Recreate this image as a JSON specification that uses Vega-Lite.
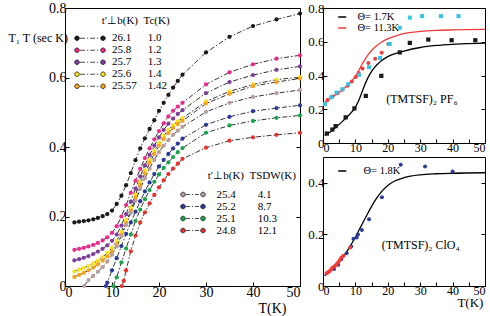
{
"$schema": "https://vega.github.io/schema/vega-lite/v6.json",
"background": "white",
"padding": {"left": 7, "top": 0, "right": 4, "bottom": 10},
"bounds": "flush",
"spacing": 23,
"resolve": {"scale": {"color": "independent"}},
"config": {
  "font": "Liberation Serif",
  "view": {"stroke": "black", "strokeWidth": 1},
  "axis": {"domain": false, "grid": false, "ticks": true, "tickColor": "black", "tickSize": -4, "tickWidth": 1, "labelColor": "black", "labelFont": "Liberation Serif", "labelFontSize": 13, "labelPadding": 3, "titleFont": "Liberation Serif", "titleFontWeight": "normal", "titleColor": "black", "titleFontSize": 13},
  "legend": {"labelFont": "Liberation Serif", "titleFont": "Liberation Serif", "labelColor": "black", "titleColor": "black", "titleFontWeight": "normal", "labelFontSize": 11, "titleFontSize": 11}
},
"hconcat": [
{
  "width": 235, "height": 278,
  "data": {"values": [
    {"s":"26.1","T":2,"v":0.183},{"s":"26.1","T":3,"v":0.185},{"s":"26.1","T":4,"v":0.187},{"s":"26.1","T":5,"v":0.189},{"s":"26.1","T":6,"v":0.192},{"s":"26.1","T":7,"v":0.196},{"s":"26.1","T":8,"v":0.201},{"s":"26.1","T":9,"v":0.207},{"s":"26.1","T":10,"v":0.217},{"s":"26.1","T":11,"v":0.236},{"s":"26.1","T":12,"v":0.26},{"s":"26.1","T":13,"v":0.29},{"s":"26.1","T":14,"v":0.325},{"s":"26.1","T":15,"v":0.362},{"s":"26.1","T":16,"v":0.396},{"s":"26.1","T":17,"v":0.425},{"s":"26.1","T":18,"v":0.452},{"s":"26.1","T":19,"v":0.477},{"s":"26.1","T":20,"v":0.504},{"s":"26.1","T":21,"v":0.527},{"s":"26.1","T":22,"v":0.55},{"s":"26.1","T":23,"v":0.571},{"s":"26.1","T":24,"v":0.59},{"s":"26.1","T":25,"v":0.608},{"s":"26.1","T":30,"v":0.672},{"s":"26.1","T":35,"v":0.717},{"s":"26.1","T":40,"v":0.748},{"s":"26.1","T":45,"v":0.767},{"s":"26.1","T":50,"v":0.784},
    {"s":"25.8","T":2,"v":0.104},{"s":"25.8","T":3,"v":0.107},{"s":"25.8","T":4,"v":0.11},{"s":"25.8","T":5,"v":0.114},{"s":"25.8","T":6,"v":0.118},{"s":"25.8","T":7,"v":0.124},{"s":"25.8","T":8,"v":0.131},{"s":"25.8","T":9,"v":0.14},{"s":"25.8","T":10,"v":0.153},{"s":"25.8","T":11,"v":0.172},{"s":"25.8","T":12,"v":0.2},{"s":"25.8","T":13,"v":0.233},{"s":"25.8","T":14,"v":0.268},{"s":"25.8","T":15,"v":0.303},{"s":"25.8","T":16,"v":0.337},{"s":"25.8","T":17,"v":0.368},{"s":"25.8","T":18,"v":0.396},{"s":"25.8","T":19,"v":0.422},{"s":"25.8","T":20,"v":0.446},{"s":"25.8","T":21,"v":0.468},{"s":"25.8","T":22,"v":0.488},{"s":"25.8","T":23,"v":0.504},{"s":"25.8","T":24,"v":0.516},{"s":"25.8","T":25,"v":0.527},{"s":"25.8","T":30,"v":0.58},{"s":"25.8","T":35,"v":0.615},{"s":"25.8","T":40,"v":0.638},{"s":"25.8","T":45,"v":0.654},{"s":"25.8","T":50,"v":0.664},
    {"s":"25.7","T":2,"v":0.074},{"s":"25.7","T":3,"v":0.077},{"s":"25.7","T":4,"v":0.081},{"s":"25.7","T":5,"v":0.086},{"s":"25.7","T":6,"v":0.092},{"s":"25.7","T":7,"v":0.099},{"s":"25.7","T":8,"v":0.107},{"s":"25.7","T":9,"v":0.117},{"s":"25.7","T":10,"v":0.13},{"s":"25.7","T":11,"v":0.148},{"s":"25.7","T":12,"v":0.174},{"s":"25.7","T":13,"v":0.207},{"s":"25.7","T":14,"v":0.243},{"s":"25.7","T":15,"v":0.28},{"s":"25.7","T":16,"v":0.315},{"s":"25.7","T":17,"v":0.347},{"s":"25.7","T":18,"v":0.377},{"s":"25.7","T":19,"v":0.404},{"s":"25.7","T":20,"v":0.428},{"s":"25.7","T":21,"v":0.449},{"s":"25.7","T":22,"v":0.467},{"s":"25.7","T":23,"v":0.482},{"s":"25.7","T":24,"v":0.495},{"s":"25.7","T":25,"v":0.506},{"s":"25.7","T":30,"v":0.555},{"s":"25.7","T":35,"v":0.587},{"s":"25.7","T":40,"v":0.607},{"s":"25.7","T":45,"v":0.622},{"s":"25.7","T":50,"v":0.632},
    {"s":"25.6","T":2,"v":0.042},{"s":"25.6","T":3,"v":0.047},{"s":"25.6","T":4,"v":0.052},{"s":"25.6","T":5,"v":0.058},{"s":"25.6","T":6,"v":0.065},{"s":"25.6","T":7,"v":0.073},{"s":"25.6","T":8,"v":0.083},{"s":"25.6","T":9,"v":0.095},{"s":"25.6","T":10,"v":0.11},{"s":"25.6","T":11,"v":0.13},{"s":"25.6","T":12,"v":0.156},{"s":"25.6","T":13,"v":0.19},{"s":"25.6","T":14,"v":0.226},{"s":"25.6","T":15,"v":0.263},{"s":"25.6","T":16,"v":0.3},{"s":"25.6","T":17,"v":0.333},{"s":"25.6","T":18,"v":0.363},{"s":"25.6","T":19,"v":0.389},{"s":"25.6","T":20,"v":0.412},{"s":"25.6","T":21,"v":0.432},{"s":"25.6","T":22,"v":0.449},{"s":"25.6","T":23,"v":0.463},{"s":"25.6","T":24,"v":0.474},{"s":"25.6","T":25,"v":0.483},{"s":"25.6","T":30,"v":0.531},{"s":"25.6","T":35,"v":0.56},{"s":"25.6","T":40,"v":0.58},{"s":"25.6","T":45,"v":0.594},{"s":"25.6","T":50,"v":0.601},
    {"s":"25.57","T":2,"v":0.026},{"s":"25.57","T":3,"v":0.032},{"s":"25.57","T":4,"v":0.038},{"s":"25.57","T":5,"v":0.045},{"s":"25.57","T":6,"v":0.053},{"s":"25.57","T":7,"v":0.062},{"s":"25.57","T":8,"v":0.073},{"s":"25.57","T":9,"v":0.085},{"s":"25.57","T":10,"v":0.1},{"s":"25.57","T":11,"v":0.12},{"s":"25.57","T":12,"v":0.147},{"s":"25.57","T":13,"v":0.181},{"s":"25.57","T":14,"v":0.217},{"s":"25.57","T":15,"v":0.254},{"s":"25.57","T":16,"v":0.291},{"s":"25.57","T":17,"v":0.324},{"s":"25.57","T":18,"v":0.354},{"s":"25.57","T":19,"v":0.38},{"s":"25.57","T":20,"v":0.403},{"s":"25.57","T":21,"v":0.423},{"s":"25.57","T":22,"v":0.44},{"s":"25.57","T":23,"v":0.455},{"s":"25.57","T":24,"v":0.466},{"s":"25.57","T":25,"v":0.475},{"s":"25.57","T":30,"v":0.525},{"s":"25.57","T":35,"v":0.553},{"s":"25.57","T":40,"v":0.575},{"s":"25.57","T":45,"v":0.587},{"s":"25.57","T":50,"v":0.597},
    {"s":"25.4","T":4.1,"v":0},{"s":"25.4","T":5,"v":0.017},{"s":"25.4","T":6,"v":0.029},{"s":"25.4","T":7,"v":0.041},{"s":"25.4","T":8,"v":0.054},{"s":"25.4","T":9,"v":0.07},{"s":"25.4","T":10,"v":0.09},{"s":"25.4","T":11,"v":0.114},{"s":"25.4","T":12,"v":0.143},{"s":"25.4","T":13,"v":0.175},{"s":"25.4","T":14,"v":0.21},{"s":"25.4","T":15,"v":0.245},{"s":"25.4","T":16,"v":0.279},{"s":"25.4","T":17,"v":0.31},{"s":"25.4","T":18,"v":0.338},{"s":"25.4","T":19,"v":0.363},{"s":"25.4","T":20,"v":0.385},{"s":"25.4","T":21,"v":0.404},{"s":"25.4","T":22,"v":0.42},{"s":"25.4","T":23,"v":0.435},{"s":"25.4","T":24,"v":0.447},{"s":"25.4","T":25,"v":0.458},{"s":"25.4","T":30,"v":0.501},{"s":"25.4","T":35,"v":0.527},{"s":"25.4","T":40,"v":0.544},{"s":"25.4","T":45,"v":0.555},{"s":"25.4","T":50,"v":0.564},
    {"s":"25.2","T":8.7,"v":0},{"s":"25.2","T":9,"v":0.01},{"s":"25.2","T":10,"v":0.045},{"s":"25.2","T":11,"v":0.08},{"s":"25.2","T":12,"v":0.115},{"s":"25.2","T":13,"v":0.15},{"s":"25.2","T":14,"v":0.183},{"s":"25.2","T":15,"v":0.214},{"s":"25.2","T":16,"v":0.244},{"s":"25.2","T":17,"v":0.272},{"s":"25.2","T":18,"v":0.298},{"s":"25.2","T":19,"v":0.322},{"s":"25.2","T":20,"v":0.344},{"s":"25.2","T":21,"v":0.363},{"s":"25.2","T":22,"v":0.38},{"s":"25.2","T":23,"v":0.396},{"s":"25.2","T":24,"v":0.41},{"s":"25.2","T":25,"v":0.424},{"s":"25.2","T":30,"v":0.464},{"s":"25.2","T":35,"v":0.487},{"s":"25.2","T":40,"v":0.503},{"s":"25.2","T":45,"v":0.512},{"s":"25.2","T":50,"v":0.52},
    {"s":"25.1","T":10.3,"v":0},{"s":"25.1","T":11,"v":0.025},{"s":"25.1","T":12,"v":0.068},{"s":"25.1","T":13,"v":0.108},{"s":"25.1","T":14,"v":0.148},{"s":"25.1","T":15,"v":0.187},{"s":"25.1","T":16,"v":0.22},{"s":"25.1","T":17,"v":0.25},{"s":"25.1","T":18,"v":0.276},{"s":"25.1","T":19,"v":0.3},{"s":"25.1","T":20,"v":0.321},{"s":"25.1","T":21,"v":0.34},{"s":"25.1","T":22,"v":0.356},{"s":"25.1","T":23,"v":0.371},{"s":"25.1","T":24,"v":0.385},{"s":"25.1","T":25,"v":0.397},{"s":"25.1","T":30,"v":0.441},{"s":"25.1","T":35,"v":0.462},{"s":"25.1","T":40,"v":0.475},{"s":"25.1","T":45,"v":0.484},{"s":"25.1","T":50,"v":0.491},
    {"s":"24.8","T":12.1,"v":0},{"s":"24.8","T":12.5,"v":0.015},{"s":"24.8","T":13,"v":0.045},{"s":"24.8","T":14,"v":0.1},{"s":"24.8","T":15,"v":0.145},{"s":"24.8","T":16,"v":0.183},{"s":"24.8","T":17,"v":0.212},{"s":"24.8","T":18,"v":0.238},{"s":"24.8","T":19,"v":0.262},{"s":"24.8","T":20,"v":0.284},{"s":"24.8","T":21,"v":0.304},{"s":"24.8","T":22,"v":0.322},{"s":"24.8","T":23,"v":0.338},{"s":"24.8","T":24,"v":0.352},{"s":"24.8","T":25,"v":0.366},{"s":"24.8","T":30,"v":0.398},{"s":"24.8","T":35,"v":0.418},{"s":"24.8","T":40,"v":0.428},{"s":"24.8","T":45,"v":0.435},{"s":"24.8","T":50,"v":0.441}
  ]},
  "encoding": {
    "x": {"field": "T", "type": "quantitative", "scale": {"domain": [0, 50], "nice": false},
          "axis": {"values": [0, 10, 20, 30, 40, 50], "labelFontSize": 14, "title": "T(K)", "titleX": 221, "titleY": 22, "titleAlign": "right", "titleBaseline": "middle", "titleFontSize": 14}}
  },
  "layer": [
    {
      "mark": {"type": "line", "color": "black", "strokeWidth": 0.8, "strokeDash": [5, 2, 1.5, 2]},
      "encoding": {
        "y": {"field": "v", "type": "quantitative", "scale": {"domain": [0, 0.8], "nice": false},
              "axis": {"values": [0, 0.2, 0.4, 0.6, 0.8], "format": ".1~f", "labelFontSize": 14, "title": "T\u2081 T (sec K)", "titleAngle": 0, "titleX": -57, "titleY": 29, "titleAlign": "left", "titleBaseline": "middle", "titleFontSize": 12}},
        "detail": {"field": "s"}
      }
    },
    {
      "transform": [{"filter": "indexof(['26.1','25.8','25.7','25.6','25.57'], datum.s) >= 0"}],
      "mark": {"type": "point", "filled": true, "size": 18, "opacity": 1, "strokeWidth": 0},
      "encoding": {
        "y": {"field": "v", "type": "quantitative", "axis": null},
        "color": {"field": "s", "type": "nominal",
          "scale": {"domain": ["26.1", "25.8", "25.7", "25.6", "25.57"], "range": ["#1a1a1a", "#ec2a8c", "#7e3e9e", "#f6e21e", "#f7a21d"]},
          "legend": {"orient": "none", "legendX": 6.5, "legendY": 7,
            "title": "\u200b\u00a0\u00a0\u00a0\u00a0\u00a0\u00a0\u00a0\u00a0\u00a0\u00a0\u00a0t\u2032\u22a5b(K)\u00a0\u00a0Tc(K)",
            "titlePadding": 7,
            "symbolType": "M-2.3,0a2.3,2.3 0 1,0 4.6,0a2.3,2.3 0 1,0 -4.6,0ZM3,0L8,0M10,0L11.2,0M13.2,0L18,0M20,0L21.2,0M23.7,0a2.3,2.3 0 1,0 4.6,0a2.3,2.3 0 1,0 -4.6,0Z",
            "symbolSize": 4, "symbolStrokeColor": "black", "symbolStrokeWidth": 0.7,
            "labelOffset": 29.5, "rowPadding": 0, "clipHeight": 10.5,
            "labelExpr": "datum.label === '26.1' ? '26.1\u00a0\u00a0\u00a0\u00a0\u00a0\u00a01.0' : datum.label === '25.8' ? '25.8\u00a0\u00a0\u00a0\u00a0\u00a0\u00a01.2' : datum.label === '25.7' ? '25.7\u00a0\u00a0\u00a0\u00a0\u00a0\u00a01.3' : datum.label === '25.6' ? '25.6\u00a0\u00a0\u00a0\u00a0\u00a0\u00a01.4' : '25.57\u00a0\u00a0\u00a0\u00a01.42'",
            "encode": {"symbols": {"update": {"stroke": {"value": "black"}, "strokeWidth": {"value": 0.7}}}}
          }
        }
      }
    },
    {
      "transform": [{"filter": "indexof(['25.4','25.2','25.1','24.8'], datum.s) >= 0"}],
      "mark": {"type": "point", "filled": true, "size": 18, "opacity": 1, "strokeWidth": 0},
      "encoding": {
        "y": {"field": "v", "type": "quantitative", "axis": null},
        "color": {"field": "s", "type": "nominal",
          "scale": {"domain": ["25.4", "25.2", "25.1", "24.8"], "range": ["#b89e9c", "#2d3a9a", "#1aa54b", "#e8312b"]},
          "legend": {"orient": "none", "legendX": 112.5, "legendY": 162,
            "title": "\u200b\u00a0\u00a0\u00a0\u00a0\u00a0\u00a0\u00a0\u00a0\u00a0\u00a0\u00a0t\u2032\u22a5b(K)\u00a0\u00a0TSDW(K)",
            "titlePadding": 8,
            "symbolType": "M-2.3,0a2.3,2.3 0 1,0 4.6,0a2.3,2.3 0 1,0 -4.6,0ZM3,0L7,0M9,0L10,0M12,0L16,0M17.7,0a2.3,2.3 0 1,0 4.6,0a2.3,2.3 0 1,0 -4.6,0Z",
            "symbolSize": 4, "symbolStrokeColor": "black", "symbolStrokeWidth": 0.7,
            "labelOffset": 28, "rowPadding": 0, "clipHeight": 11,
            "labelExpr": "datum.label === '25.4' ? '25.4\u00a0\u00a0\u00a0\u00a0\u00a0\u00a0\u00a0\u00a04.1' : datum.label === '25.2' ? '25.2\u00a0\u00a0\u00a0\u00a0\u00a0\u00a0\u00a0\u00a08.7' : datum.label === '25.1' ? '25.1\u00a0\u00a0\u00a0\u00a0\u00a0\u00a0\u00a0\u00a010.3' : '24.8\u00a0\u00a0\u00a0\u00a0\u00a0\u00a0\u00a0\u00a012.1'",
            "encode": {"symbols": {"update": {"stroke": {"value": "black"}, "strokeWidth": {"value": 0.7}}}}
          }
        }
      }
    },
    {
      "mark": {"type": "point", "opacity": 0},
      "encoding": {
        "y": {"field": "v", "type": "quantitative", "axis": {"orient": "right", "values": [0, 0.2, 0.4, 0.6, 0.8], "labels": false, "title": null}}
      }
    }
  ],
  "resolve": {"scale": {"color": "independent"}, "axis": {"y": "independent"}}
},
{
  "vconcat": [
    {
      "width": 162, "height": 135,
      "data": {"values": [
        {"s":"sq","T":1.2,"v":0.056},{"s":"sq","T":2.9,"v":0.08},{"s":"sq","T":3.9,"v":0.1},{"s":"sq","T":7,"v":0.152},{"s":"sq","T":9.7,"v":0.205},{"s":"sq","T":13.2,"v":0.279},{"s":"sq","T":18,"v":0.398},{"s":"sq","T":23.7,"v":0.537},{"s":"sq","T":26.8,"v":0.593},{"s":"sq","T":32.5,"v":0.613},{"s":"sq","T":39.7,"v":0.609},{"s":"sq","T":47,"v":0.609},
        {"s":"rd","T":1.4,"v":0.255},{"s":"rd","T":2.9,"v":0.275},{"s":"rd","T":4.5,"v":0.295},{"s":"rd","T":6,"v":0.315},{"s":"rd","T":7.6,"v":0.339},{"s":"rd","T":8.9,"v":0.365},{"s":"rd","T":10.1,"v":0.391},{"s":"rd","T":11,"v":0.415},{"s":"rd","T":12.2,"v":0.442},{"s":"rd","T":14,"v":0.474},{"s":"rd","T":16.1,"v":0.5},{"s":"rd","T":18.1,"v":0.535},{"s":"rd","T":20.2,"v":0.586},
        {"s":"cy","T":0.6,"v":0.231},{"s":"cy","T":2.5,"v":0.271},{"s":"cy","T":4.2,"v":0.299},{"s":"cy","T":6,"v":0.319},{"s":"cy","T":7.8,"v":0.349},{"s":"cy","T":11.1,"v":0.404},{"s":"cy","T":14.2,"v":0.449},{"s":"cy","T":17.6,"v":0.504},{"s":"cy","T":20.6,"v":0.587},{"s":"cy","T":23.7,"v":0.683},{"s":"cy","T":26.8,"v":0.743},{"s":"cy","T":30.6,"v":0.752},{"s":"cy","T":36.4,"v":0.752},{"s":"cy","T":41.8,"v":0.752},
        {"s":"\u0398= 1.7K","T":0.5,"v":0.045},{"s":"\u0398= 1.7K","T":2,"v":0.062},{"s":"\u0398= 1.7K","T":4,"v":0.093},{"s":"\u0398= 1.7K","T":6,"v":0.128},{"s":"\u0398= 1.7K","T":8,"v":0.165},{"s":"\u0398= 1.7K","T":10,"v":0.213},{"s":"\u0398= 1.7K","T":11,"v":0.25},{"s":"\u0398= 1.7K","T":12,"v":0.3},{"s":"\u0398= 1.7K","T":13,"v":0.35},{"s":"\u0398= 1.7K","T":14,"v":0.392},{"s":"\u0398= 1.7K","T":15,"v":0.425},{"s":"\u0398= 1.7K","T":16,"v":0.45},{"s":"\u0398= 1.7K","T":17,"v":0.47},{"s":"\u0398= 1.7K","T":18,"v":0.487},{"s":"\u0398= 1.7K","T":20,"v":0.512},{"s":"\u0398= 1.7K","T":22,"v":0.528},{"s":"\u0398= 1.7K","T":25,"v":0.545},{"s":"\u0398= 1.7K","T":30,"v":0.566},{"s":"\u0398= 1.7K","T":35,"v":0.578},{"s":"\u0398= 1.7K","T":40,"v":0.585},{"s":"\u0398= 1.7K","T":45,"v":0.589},{"s":"\u0398= 1.7K","T":50,"v":0.592},
        {"s":"\u0398= 11.3K","T":0.5,"v":0.24},{"s":"\u0398= 11.3K","T":2,"v":0.262},{"s":"\u0398= 11.3K","T":4,"v":0.288},{"s":"\u0398= 11.3K","T":6,"v":0.316},{"s":"\u0398= 11.3K","T":8,"v":0.35},{"s":"\u0398= 11.3K","T":9,"v":0.37},{"s":"\u0398= 11.3K","T":10,"v":0.395},{"s":"\u0398= 11.3K","T":11,"v":0.428},{"s":"\u0398= 11.3K","T":12,"v":0.465},{"s":"\u0398= 11.3K","T":13,"v":0.497},{"s":"\u0398= 11.3K","T":14,"v":0.525},{"s":"\u0398= 11.3K","T":15,"v":0.548},{"s":"\u0398= 11.3K","T":16,"v":0.567},{"s":"\u0398= 11.3K","T":18,"v":0.597},{"s":"\u0398= 11.3K","T":20,"v":0.617},{"s":"\u0398= 11.3K","T":23,"v":0.638},{"s":"\u0398= 11.3K","T":26,"v":0.652},{"s":"\u0398= 11.3K","T":30,"v":0.661},{"s":"\u0398= 11.3K","T":35,"v":0.667},{"s":"\u0398= 11.3K","T":40,"v":0.67},{"s":"\u0398= 11.3K","T":50,"v":0.673},
        {"s":"note","label":"(TMTSF)\u2082 PF\u2086","T":19.5,"v":0.26}
      ]},
      "encoding": {
        "x": {"field": "T", "type": "quantitative", "scale": {"domain": [0, 50], "nice": false},
              "axis": {"values": [0, 5, 10, 15, 20, 25, 30, 35, 40, 45, 50], "labelExpr": "datum.value % 10 === 0 ? datum.label : ''", "labelFontSize": 12, "title": null}}
      },
      "layer": [
        {
          "transform": [{"filter": "length(datum.s) > 4"}],
          "mark": {"type": "line", "interpolate": "monotone", "strokeWidth": 1.3},
          "encoding": {
            "y": {"field": "v", "type": "quantitative", "scale": {"domain": [0, 0.8], "nice": false},
                  "axis": {"values": [0, 0.2, 0.4, 0.6, 0.8], "format": ".1~f", "labelFontSize": 13, "title": null}},
            "color": {"field": "s", "type": "nominal",
              "scale": {"domain": ["\u0398= 1.7K", "\u0398= 11.3K"], "range": ["black", "#f03a3a"]},
              "legend": {"orient": "none", "legendX": 14, "legendY": 3.5, "title": null, "symbolType": "stroke", "symbolSize": 64, "symbolStrokeWidth": 1.5, "labelOffset": 10, "rowPadding": 0, "clipHeight": 11, "labelFontSize": 10.5}}
          }
        },
        {
          "transform": [{"filter": "datum.s === 'sq'"}],
          "mark": {"type": "square", "color": "#1a1a1a", "size": 18, "opacity": 1},
          "encoding": {"y": {"field": "v", "type": "quantitative", "axis": null}}
        },
        {
          "transform": [{"filter": "datum.s === 'rd'"}],
          "mark": {"type": "circle", "color": "#f03a3a", "size": 16, "opacity": 1},
          "encoding": {"y": {"field": "v", "type": "quantitative", "axis": null}}
        },
        {
          "transform": [{"filter": "datum.s === 'cy'"}],
          "mark": {"type": "square", "color": "#35c4e8", "size": 16, "opacity": 1},
          "encoding": {"y": {"field": "v", "type": "quantitative", "axis": null}}
        },
        {
          "transform": [{"filter": "datum.s === 'note'"}],
          "mark": {"type": "text", "align": "left", "baseline": "middle", "fontSize": 12, "font": "Liberation Serif", "color": "black"},
          "encoding": {"text": {"field": "label"}, "y": {"field": "v", "type": "quantitative", "axis": null}}
        },
        {
          "mark": {"type": "point", "opacity": 0},
          "encoding": {
            "y": {"field": "v", "type": "quantitative", "axis": {"orient": "right", "values": [0, 0.2, 0.4, 0.6, 0.8], "labels": false, "title": null}}
          }
        }
      ],
      "resolve": {"axis": {"y": "independent"}}
    },
    {
      "width": 162, "height": 129,
      "data": {"values": [
        {"s":"bl","T":3.4,"v":0.066},{"s":"bl","T":4.7,"v":0.082},{"s":"bl","T":5.7,"v":0.105},{"s":"bl","T":7.3,"v":0.127},{"s":"bl","T":8.7,"v":0.153},{"s":"bl","T":9.4,"v":0.183},{"s":"bl","T":10.4,"v":0.188},{"s":"bl","T":10.8,"v":0.2},{"s":"bl","T":12,"v":0.217},{"s":"bl","T":14.2,"v":0.259},{"s":"bl","T":18.2,"v":0.344},{"s":"bl","T":24,"v":0.47},{"s":"bl","T":31.5,"v":0.463},{"s":"bl","T":40,"v":0.444},
        {"s":"rd","T":1.1,"v":0.049},{"s":"rd","T":1.6,"v":0.053},{"s":"rd","T":2.1,"v":0.058},{"s":"rd","T":2.6,"v":0.066},{"s":"rd","T":3.1,"v":0.073},{"s":"rd","T":3.7,"v":0.078},{"s":"rd","T":4.2,"v":0.084},{"s":"rd","T":4.7,"v":0.092},{"s":"rd","T":5.2,"v":0.101},{"s":"rd","T":5.7,"v":0.11},{"s":"rd","T":6.3,"v":0.117},{"s":"rd","T":8.4,"v":0.149},
        {"s":"\u0398= 1.8K","T":0.5,"v":0.04},{"s":"\u0398= 1.8K","T":2,"v":0.056},{"s":"\u0398= 1.8K","T":4,"v":0.08},{"s":"\u0398= 1.8K","T":6,"v":0.11},{"s":"\u0398= 1.8K","T":8,"v":0.146},{"s":"\u0398= 1.8K","T":10,"v":0.19},{"s":"\u0398= 1.8K","T":12,"v":0.238},{"s":"\u0398= 1.8K","T":14,"v":0.286},{"s":"\u0398= 1.8K","T":16,"v":0.33},{"s":"\u0398= 1.8K","T":18,"v":0.365},{"s":"\u0398= 1.8K","T":20,"v":0.39},{"s":"\u0398= 1.8K","T":22,"v":0.406},{"s":"\u0398= 1.8K","T":25,"v":0.42},{"s":"\u0398= 1.8K","T":30,"v":0.431},{"s":"\u0398= 1.8K","T":35,"v":0.435},{"s":"\u0398= 1.8K","T":40,"v":0.437},{"s":"\u0398= 1.8K","T":50,"v":0.439},
        {"s":"note","label":"(TMTSF)\u2082 ClO\u2084","T":18.1,"v":0.16,"a":"left"},
        {"s":"note","label":"T(K)","T":49.5,"v":-0.066,"a":"right"}
      ]},
      "encoding": {
        "x": {"field": "T", "type": "quantitative", "scale": {"domain": [0, 50], "nice": false},
              "axis": {"values": [0, 5, 10, 15, 20, 25, 30, 35, 40, 45, 50], "labelExpr": "datum.value % 10 === 0 ? datum.label : ''", "labelFontSize": 12, "title": null}}
      },
      "layer": [
        {
          "transform": [{"filter": "length(datum.s) > 4"}],
          "mark": {"type": "line", "interpolate": "monotone", "strokeWidth": 1.3},
          "encoding": {
            "y": {"field": "v", "type": "quantitative", "scale": {"domain": [0, 0.5], "nice": false},
                  "axis": {"values": [0, 0.2, 0.4], "format": ".1~f", "labelFontSize": 13, "title": null}},
            "color": {"field": "s", "type": "nominal",
              "scale": {"domain": ["\u0398= 1.8K"], "range": ["black"]},
              "legend": {"orient": "none", "legendX": 14, "legendY": 8.5, "title": null, "symbolType": "stroke", "symbolSize": 64, "symbolStrokeWidth": 1.5, "labelOffset": 16, "clipHeight": 11, "labelFontSize": 10.5}}
          }
        },
        {
          "transform": [{"filter": "datum.s === 'bl'"}],
          "mark": {"type": "circle", "color": "#2e3a98", "size": 16, "opacity": 1},
          "encoding": {"y": {"field": "v", "type": "quantitative", "axis": null}}
        },
        {
          "transform": [{"filter": "datum.s === 'rd'"}],
          "mark": {"type": "circle", "color": "#f03a3a", "size": 16, "opacity": 1},
          "encoding": {"y": {"field": "v", "type": "quantitative", "axis": null}}
        },
        {
          "transform": [{"filter": "datum.s === 'note' && datum.a === 'left'"}],
          "mark": {"type": "text", "align": "left", "baseline": "middle", "fontSize": 12, "font": "Liberation Serif", "color": "black"},
          "encoding": {"text": {"field": "label"}, "y": {"field": "v", "type": "quantitative", "axis": null}}
        },
        {
          "transform": [{"filter": "datum.s === 'note' && datum.a === 'right'"}],
          "mark": {"type": "text", "align": "right", "baseline": "middle", "fontSize": 13, "font": "Liberation Serif", "color": "black"},
          "encoding": {"text": {"field": "label"}, "y": {"field": "v", "type": "quantitative", "axis": null}}
        },
        {
          "mark": {"type": "point", "opacity": 0},
          "encoding": {
            "y": {"field": "v", "type": "quantitative", "axis": {"orient": "right", "values": [0, 0.2, 0.4], "labels": false, "title": null}}
          }
        }
      ],
      "resolve": {"axis": {"y": "independent"}}
    }
  ],
  "spacing": 14,
  "bounds": "flush",
  "resolve": {"scale": {"color": "independent"}}
}
]
}
